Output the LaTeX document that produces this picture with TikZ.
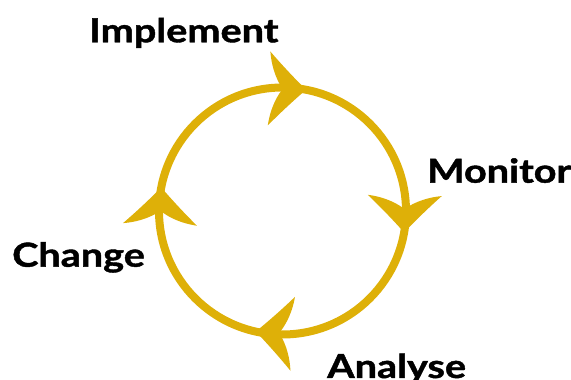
\documentclass[tikz,border=0pt]{standalone}
\usepackage{fontspec}
\setmainfont{Lato}
\newfontfamily\lblfont{Lato}[BoldFeatures={FakeBold=1.2}]
\definecolor{gold}{RGB}{222,176,8}
\newcommand{\lbltext}[1]{\scalebox{1.2}[1]{#1}}
\begin{document}
\begin{tikzpicture}[x=1pt,y=1pt,
  lbl/.style={anchor=base west, inner sep=0pt, font=\fontsize{33}{36}\selectfont\lblfont\bfseries},
  ring/.style={draw=gold, line width=8pt},
  headshape/.pic={\fill[gold] (0,0) .. controls (-13,12) and (-26,25) .. (-37,37)
     .. controls (-35,18) and (-27,4) .. (-23,0)
     .. controls (-27,-4) and (-35,-18) .. (-37,-37)
     .. controls (-26,-25) and (-13,-12) .. cycle;}
]
\useasboundingbox (0,0) rectangle (571,380);
\coordinate (c) at (282.5,169);
\draw[ring] (c) circle (123.5);
\foreach \t in {79,-10,-102.5,169} {
  \pic[rotate=\t-81] at ([shift={(\t:123.5)}]c) {headshape};
}
\node[lbl] (impl) at (89,337.7) {\lbltext{Implement}};
\node[lbl] (mon) at (427,197.3) {\lbltext{Monitor}};
\node[lbl] (chg) at (12,113.3) {\lbltext{Change}};
\node[lbl] (ana) at (327,2) {\lbltext{Analyse}};
\end{tikzpicture}
\end{document}
